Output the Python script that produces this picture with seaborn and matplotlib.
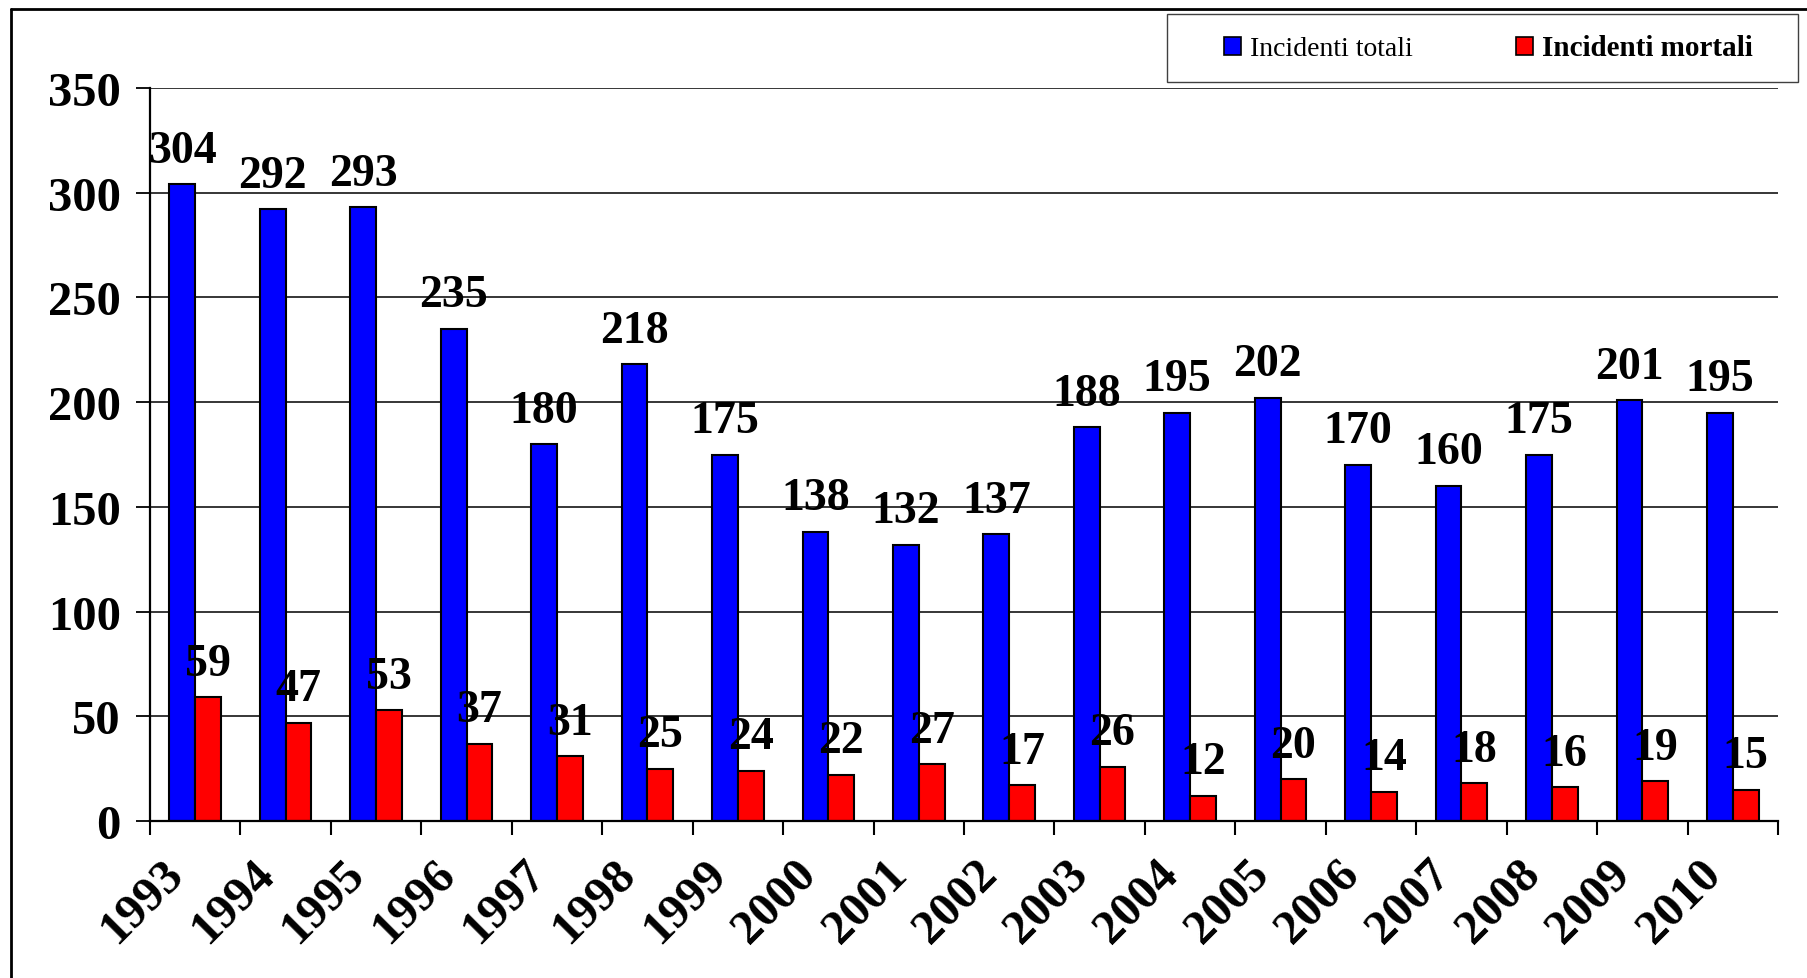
import pandas as pd
import seaborn as sns
import matplotlib.pyplot as plt
from matplotlib.lines import Line2D
from matplotlib.patches import Rectangle
from matplotlib.transforms import ScaledTranslation

# dati
anni = ['1993', '1994', '1995', '1996', '1997', '1998', '1999', '2000', '2001',
        '2002', '2003', '2004', '2005', '2006', '2007', '2008', '2009', '2010']
totali = [304, 292, 293, 235, 180, 218, 175, 138, 132, 137, 188, 195, 202, 170, 160, 175, 201, 195]
mortali = [59, 47, 53, 37, 31, 25, 24, 22, 27, 17, 26, 12, 20, 14, 18, 16, 19, 15]
serie = ['Incidenti totali', 'Incidenti mortali']
colori = ['#0000FF', '#FF0000']
y_ticks = [0, 50, 100, 150, 200, 250, 300, 350]

df = pd.DataFrame({'anno': anni, serie[0]: totali, serie[1]: mortali})
df = df.melt(id_vars='anno', var_name='serie', value_name='valore')

sns.set_style('white')
plt.rcParams['font.family'] = ['Liberation Serif', 'DejaVu Serif']
plt.rcParams['font.weight'] = 'bold'
for k in ['text.color', 'axes.labelcolor', 'xtick.color', 'ytick.color']:
    plt.rcParams[k] = 'black'

W, H = 1807, 979
fig = plt.figure(figsize=(W / 100, H / 100), dpi=100)
ax = fig.add_axes([150 / W, 1 - 822 / H, 1628 / W, 733 / H])

sns.barplot(data=df, x='anno', y='valore', hue='serie', hue_order=serie,
            palette=colori, width=0.57, saturation=1, edgecolor='black',
            linewidth=1.5, ax=ax)
if ax.get_legend() is not None:
    ax.get_legend().remove()

# etichette sopra le barre
for cont in ax.containers:
    ax.bar_label(cont, padding=9, fontsize=33, fontweight='bold', color='black')

ax.set_xlabel('')
ax.set_ylabel('')
ax.set_ylim(0, 350)
ax.set_yticks(y_ticks)
ax.set_xlim(-0.5, len(anni) - 0.5)
ax.set_xticks(range(len(anni)))
ax.set_xticks([i - 0.5 for i in range(len(anni) + 1)], minor=True)

ax.set_axisbelow(True)
ax.yaxis.grid(True, color='black', linewidth=1.1)
ax.xaxis.grid(False)
for s in ['top', 'right']:
    ax.spines[s].set_visible(False)
for s in ['left', 'bottom']:
    ax.spines[s].set_color('black')
    ax.spines[s].set_linewidth(1.6)

ax.tick_params(axis='y', length=10, width=1.3, color='black', direction='out',
               pad=11, labelsize=35, left=True, labelcolor='black')
ax.tick_params(axis='x', which='major', length=0, pad=58, labelsize=35, bottom=True,
               labelcolor='black')
ax.tick_params(axis='x', which='minor', length=10, width=1.5, color='black',
               direction='out', bottom=True)

# etichette anni ruotate a 45 gradi
sposta = ScaledTranslation(-0.53, 0, fig.dpi_scale_trans)
for lab in ax.get_xticklabels():
    lab.set_rotation(45)
    lab.set_ha('center')
    lab.set_va('center')
    lab.set_fontweight('bold')
    lab.set_transform(lab.get_transform() + sposta)
for lab in ax.get_yticklabels():
    lab.set_fontweight('bold')

# legenda
maniglie = [Rectangle((0, 0), 1, 1, facecolor=c, edgecolor='black', lw=1.2) for c in colori]
leg = fig.legend(maniglie, serie, loc='center left', bbox_to_anchor=(1224 / W, 1 - 49 / H),
                 ncol=2, frameon=False, fontsize=20, handlelength=0.62, handleheight=0.62,
                 handletextpad=0.33, columnspacing=3.7, borderpad=0, borderaxespad=0)
leg.get_texts()[0].set_fontweight('normal')
leg.get_texts()[1].set_fontweight('bold')
leg.get_texts()[1].set_fontsize(21)
fig.add_artist(Rectangle((1167 / W, 1 - 83 / H), 631 / W, 68 / H, transform=fig.transFigure,
                         fill=False, edgecolor='#404040', lw=1))

# bordo del grafico
fig.add_artist(Line2D([11 / W, 11 / W], [0, 1 - 10 / H], transform=fig.transFigure,
                      color='black', lw=2))
fig.add_artist(Line2D([11 / W, 1], [1 - 10 / H, 1 - 10 / H], transform=fig.transFigure,
                      color='black', lw=2))

fig.savefig('out.png', dpi=100)
